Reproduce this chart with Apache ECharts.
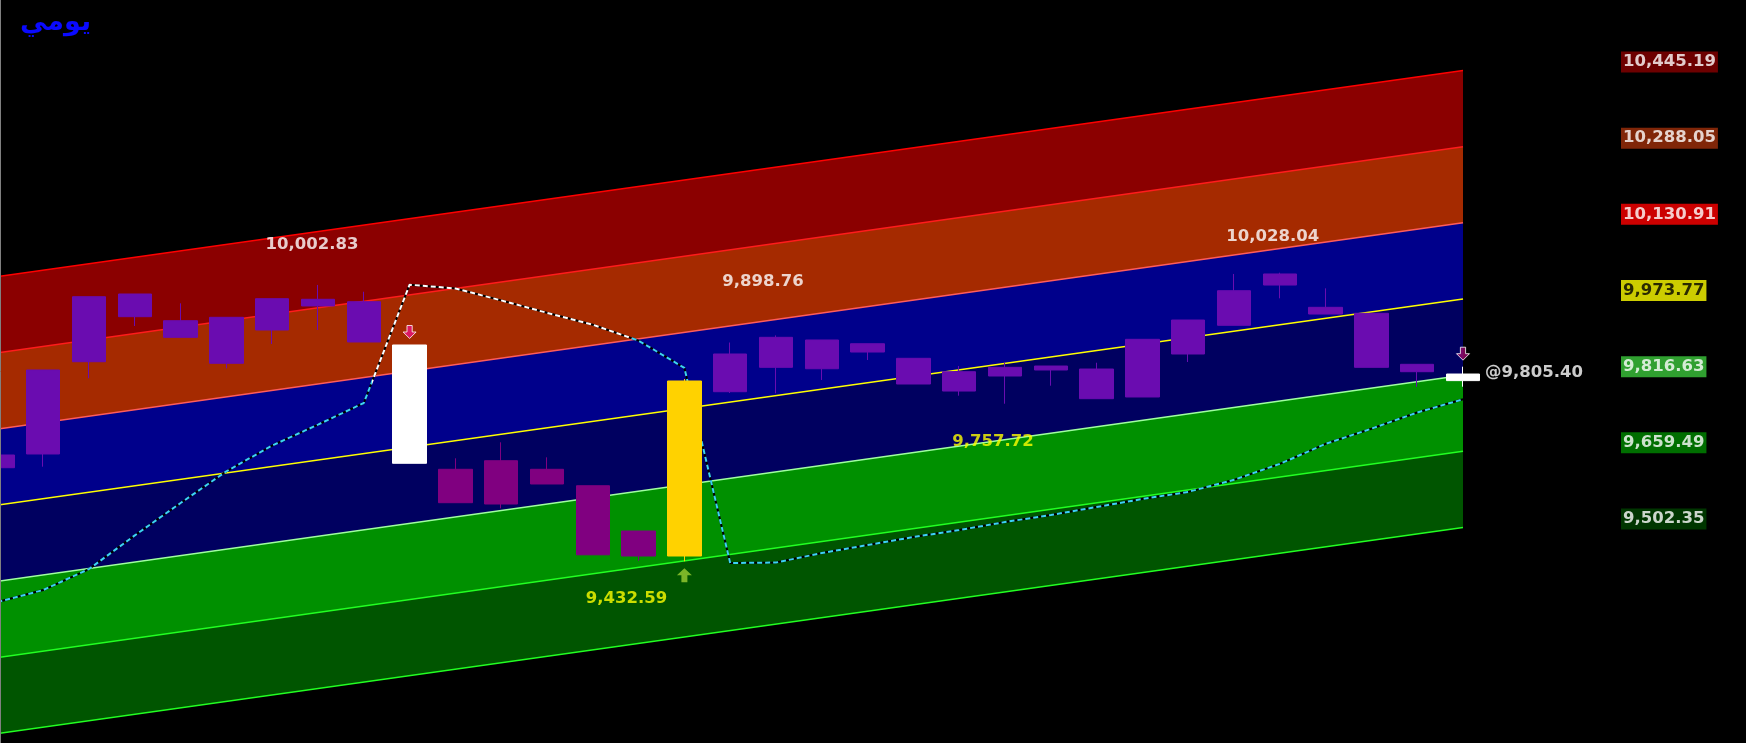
<!DOCTYPE html>
<html><head><meta charset="utf-8">
<script src="https://cdn.jsdelivr.net/npm/echarts@6/dist/echarts.min.js"></script>
<style>html,body{margin:0;padding:0;background:#000}#c{width:1746px;height:743px}</style>
</head><body><div id="c"></div>
<script>
// ---------------- data ----------------
const titleText = 'يومي';
// candle index 0..32
const opens  = [9651.9, 9654.0, 9844.4, 9984.1, 9929.0, 9841.1, 9909.8, 9973.2, 9968.2, 9878.9,
                9622.4, 9550.8, 9622.4, 9588.5, 9495.1, 9443.5, 9782.5, 9832.8, 9889.2, 9864.4,
                9851.4, 9823.8, 9814.9, 9835.5, 9768.1, 9771.6, 9860.3, 9919.5, 10002.6, 9956.6,
                9944.3, 9839.0, 9819.0];
const closes = [9625.7, 9827.3, 9978.5, 9937.3, 9894.7, 9936.0, 9974.4, 9959.4, 9885.1, 9634.8,
                9553.5, 9640.1, 9592.1, 9446.0, 9443.5, 9804.6, 9860.3, 9894.7, 9829.9, 9881.5,
                9798.4, 9783.9, 9832.8, 9827.3, 9829.3, 9890.6, 9930.4, 9990.9, 10025.4, 9942.8,
                9832.8, 9823.8, 9805.4];
const lows   = [9618.0, 9627.8, 9810.2, 9918.1, 9894.7, 9830.8, 9880.9, 9909.8, 9885.1, 9634.8,
                9553.5, 9541.9, 9592.1, 9446.0, 9433.8, 9432.59, 9779.8, 9779.2, 9806.7, 9847.9,
                9798.4, 9774.3, 9757.72, 9794.9, 9768.1, 9771.6, 9843.8, 9919.5, 9975.2, 9942.8,
                9832.8, 9792.8, 9792.8];
const highs  = [9660.0, 9827.3, 9978.5, 9984.1, 9964.9, 9936.0, 9974.4, 10002.83, 9988.8, 9878.9,
                9645.1, 9678.1, 9647.1, 9588.5, 9495.1, 9808.7, 9884.0, 9898.76, 9889.2, 9881.5,
                9851.4, 9835.5, 9842.3, 9835.5, 9842.3, 9890.6, 9930.4, 10025.4, 10028.04, 9995.8,
                9944.3, 9839.0, 9834.1];
// candle kind: n = normal, d = down-trend, s = sell signal, b = buy signal
const kinds  = ['n','n','n','n','n','n','n','n','n','s',
                'd','d','d','d','d','b','n','n','n','n',
                'n','n','n','n','n','n','n','n','n','n',
                'n','n','s'];
// trailing line value at each candle
const stopLine = [9348.5, 9373.3, 9416.6, 9486.0, 9552.8, 9618.3, 9671.5, 9714.6, 9759.2, 10003.3,
                  9995.5, 9970.9, 9945.3, 9920.6, 9887.8, 9831.6, 9429.0, 9430.0, 9449.6, 9466.2,
                  9482.7, 9497.1, 9513.6, 9528.1, 9544.6, 9561.1, 9575.8, 9600.7, 9633.5, 9675.0,
                  9706.2, 9739.6, 9766.9];
const stopWhiteRange = [8.17, 13.85];
// channel lines: value at candle 0 and at candle 32
const channelStart = [10019.79, 9862.65, 9705.51, 9548.37, 9391.23, 9234.09, 9076.95];
const channelEnd   = [10445.19, 10288.05, 10130.91, 9973.77, 9816.63, 9659.49, 9502.35];
const swingIdx    = [7, 15, 17, 22, 28];
const swingValues = [10002.83, 9432.59, 9898.76, 9757.72, 10028.04];
const sellSignals = [9, 32];
const buySignals  = [15];
const lastIndex = 32;
const lastPrice = 9805.40;

// ---------------- styles ----------------
const W = 1746;
const FONT = 'DejaVu Sans';
const bandFill = ['#8b0000', '#a52a00', '#00008b', '#000060', '#009000', '#005500', '#000000'];
const bandLine = ['#ff0000', '#ff1c1c', '#ff5c5c', '#ffff00', '#a0ffa0', '#22ff22', '#22ff22'];
const labelBg  = ['#880000', '#a0300a', '#ff0000', '#ffff00', '#3cc83c', '#008a00', '#004400'];
const labelFg  = ['#ffffff', '#ffffff', '#ffffff', '#000000', '#ffffff', '#ffffff', '#ffffff'];
const kindColor = {n: '#6a0cb0', d: '#800080', s: '#ffffff', b: '#ffd200'};
const swingColor = ['#ffffff', '#ffff00', '#ffffff', '#ffff00', '#ffffff'];
const swingOffset = [[-6, -40], [-58, 37], [-13, -54], [-12, 38], [-7, -36]];
const sellArrowColor = ['#e8147a', '#9a0a6a'];
const CYAN = '#3cd2f5';

const fmt = v => v.toLocaleString('en-US', {minimumFractionDigits: 2, maximumFractionDigits: 2});
const downArrow = 'path://M3,0H7V5H10L5,10L0,5H3Z';
const upArrow = 'path://M5,0L10,5H7V10H3V5H0Z';

const series = [];
channelEnd.forEach((v, k) => {
  series.push({
    type: 'line', silent: true, z: 1, symbol: 'none',
    data: [[0, channelStart[k]], [lastIndex, v]],
    lineStyle: {color: bandLine[k], width: 1.5},
    areaStyle: {color: bandFill[k], opacity: 1, origin: 'start'}
  });
});
const stopData = stopLine.map((v, i) => [i, v]);
series.push({type: 'line', silent: true, z: 2, symbol: 'none', data: stopData,
  lineStyle: {color: '#000000', width: 2}});
const stopSeriesIndex = series.length;
series.push({id: 'stop', type: 'line', silent: true, z: 2, symbol: 'none', data: stopData,
  lineStyle: {color: CYAN, width: 2, type: [5, 3]}});

series.push({
  type: 'candlestick', z: 3, barWidth: 34,
  encode: {x: 0, y: [1, 2, 3, 4]},
  data: opens.map((o, i) => {
    const c = kindColor[kinds[i]];
    return {value: [i, o, closes[i], lows[i], highs[i]],
      itemStyle: {color: c, color0: c, borderColor: c, borderColor0: c, borderWidth: 1}};
  })
});

// signal arrows
series.push({
  type: 'scatter', z: 4, silent: true,
  data: sellSignals.map((i, n) => ({value: [i, highs[i]],
    itemStyle: {color: sellArrowColor[n], borderColor: '#ffffff', borderWidth: 1}})),
  symbol: downArrow, symbolSize: [13, 13], symbolOffset: [0, -13]
});
series.push({
  type: 'scatter', z: 4, silent: true,
  data: buySignals.map(i => [i, lows[i]]),
  symbol: upArrow, symbolSize: [15, 14], symbolOffset: [0, 14],
  itemStyle: {color: '#9acd32'}
});

// swing labels
series.push({
  type: 'scatter', z: 5, silent: true, symbolSize: 0,
  data: swingIdx.map((i, n) => ({value: [i, swingValues[n]],
    label: {show: true, position: 'inside', offset: swingOffset[n], color: swingColor[n],
      formatter: fmt(swingValues[n])}})),
  label: {fontFamily: FONT, fontWeight: 'bold', fontSize: 16.5}
});

// right level labels
series.push({
  type: 'scatter', z: 5, silent: true, symbolSize: 0,
  data: channelEnd.map((v, k) => ({value: [lastIndex, v],
    label: {backgroundColor: labelBg[k], color: labelFg[k], formatter: fmt(v)}})),
  label: {show: true, position: 'right', distance: 158, offset: [0, -8.5],
    fontFamily: FONT, fontWeight: 'bold', fontSize: 16.5, lineHeight: 17, padding: [2, 2, 2, 2]}
});

// last price
series.push({
  type: 'scatter', z: 5, silent: true, symbolSize: 0,
  data: [[lastIndex, lastPrice]],
  label: {show: true, position: 'right', distance: 22, offset: [0, -8], color: '#ffffff',
    fontFamily: FONT, fontWeight: 'bold', fontSize: 16.5, formatter: '@' + fmt(lastPrice)}
});

const chart = echarts.init(document.getElementById('c'), null, {renderer: 'canvas'});
chart.setOption({
  backgroundColor: '#000000',
  animation: false,
  title: {text: titleText, left: 15, top: 4,
    textStyle: {color: '#0a0aff', fontSize: 27, fontWeight: 'bold', fontFamily: FONT}},
  grid: {left: 0, right: 0, top: 0, bottom: 0},
  xAxis: {type: 'value', min: 0.0568, max: 38.179, show: false},
  yAxis: {type: 'value', min: 9057.7, max: 10590.7, show: false},
  graphic: [{type: 'line', shape: {x1: 0.5, y1: 0, x2: 0.5, y2: 743},
    style: {stroke: '#808080', lineWidth: 1}, z: 100}],
  series: series
});

// colour the trailing line white where it runs in the upper zone, using the x scale
const p0 = chart.convertToPixel({xAxisIndex: 0}, stopWhiteRange[0]) / W;
const p1 = chart.convertToPixel({xAxisIndex: 0}, stopWhiteRange[1]) / W;
chart.setOption({series: [{id: 'stop', lineStyle: {color: {
  type: 'linear', x: 0, y: 0, x2: W, y2: 0, global: true,
  colorStops: [
    {offset: 0, color: CYAN}, {offset: p0, color: CYAN},
    {offset: p0, color: '#ffffff'}, {offset: p1, color: '#ffffff'},
    {offset: p1, color: CYAN}, {offset: 1, color: CYAN}
  ]}}}]});
</script></body></html>
